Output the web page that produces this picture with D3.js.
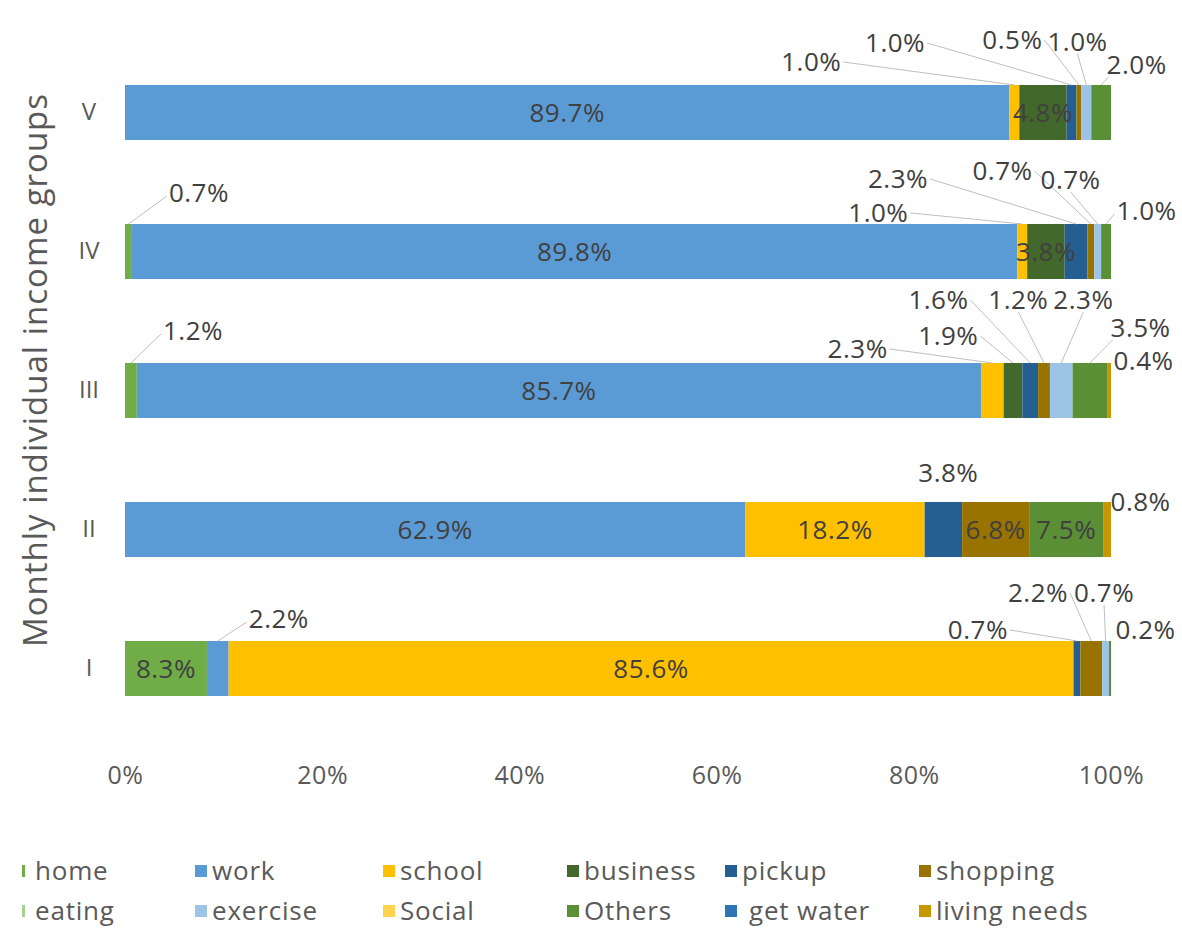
<!DOCTYPE html>
<html>
<head>
<meta charset="utf-8">
<script src="https://cdn.jsdelivr.net/npm/d3@7"></script>
<style>
  body { margin: 0; background: #fff; }
  svg text { font-family: "Open Sans", Lato, sans-serif; }
</style>
</head>
<body>
<svg id="chart"></svg>
<script>
// income groups, top to bottom
var groups = ["V", "IV", "III", "II", "I"];
var categories = ["home", "work", "school", "business", "pickup", "shopping",
  "eating", "exercise", "Social", "Others", "get water", "living needs"];

// share of trips (%) per group, in the order of groups
var home        = [0,    0.7,  1.2,  0,    8.3];
var work        = [89.7, 89.8, 85.7, 62.9, 2.2];
var school      = [1.0,  1.0,  2.3,  18.2, 85.6];
var business    = [4.8,  3.8,  1.9,  0,    0];
var pickup      = [1.0,  2.3,  1.6,  3.8,  0.7];
var shopping    = [0.5,  0.7,  1.2,  6.8,  2.2];
var eating      = [0,    0,    0,    0,    0];
var exercise    = [1.0,  0.7,  2.3,  0,    0.7];
var social      = [0,    0,    0,    0,    0];
var others      = [2.0,  1.0,  3.5,  7.5,  0.2];
var getWater    = [0,    0,    0,    0,    0];
var livingNeeds = [0,    0,    0.4,  0.8,  0];

var xTicks = [0, 0.2, 0.4, 0.6, 0.8, 1];

var seriesByCat = {
  "home": home, "work": work, "school": school, "business": business,
  "pickup": pickup, "shopping": shopping, "eating": eating,
  "exercise": exercise, "Social": social, "Others": others,
  "get water": getWater, "living needs": livingNeeds
};

var colors = {
  "home": "#70AD47", "work": "#5B9BD5", "school": "#FFC000",
  "business": "#43682B", "pickup": "#255E91", "shopping": "#997300",
  "eating": "#A9D18E", "exercise": "#9DC3E6", "Social": "#FFD34D",
  "Others": "#5A8F35", "get water": "#2E75B6", "living needs": "#C79600"
};

// callout placement: label centre (x in % of axis), offset from bar top, where the leader starts
var callouts = [
  { g: "V", k: "school", lx: 69.6, dy: -23, side: "r" },
  { g: "V", k: "pickup", lx: 78.1, dy: -42, side: "r" },
  { g: "V", k: "shopping", lx: 90.0, dy: -45, side: "r" },
  { g: "V", k: "exercise", lx: 96.6, dy: -43, side: "b" },
  { g: "V", k: "Others", lx: 102.6, dy: -20, side: "bl" },
  { g: "IV", k: "home", lx: 7.5, dy: -31, side: "l" },
  { g: "IV", k: "school", lx: 76.4, dy: -11, side: "r" },
  { g: "IV", k: "pickup", lx: 78.4, dy: -45, side: "r" },
  { g: "IV", k: "shopping", lx: 89.0, dy: -53, side: "r" },
  { g: "IV", k: "exercise", lx: 95.9, dy: -44, side: "b" },
  { g: "IV", k: "Others", lx: 103.6, dy: -13, side: "l" },
  { g: "III", k: "home", lx: 6.9, dy: -32, side: "l" },
  { g: "III", k: "school", lx: 74.3, dy: -14, side: "r" },
  { g: "III", k: "business", lx: 83.5, dy: -27, side: "r" },
  { g: "III", k: "pickup", lx: 82.5, dy: -63, side: "r" },
  { g: "III", k: "shopping", lx: 90.6, dy: -63, side: "b" },
  { g: "III", k: "exercise", lx: 97.2, dy: -63, side: "b" },
  { g: "III", k: "Others", lx: 103.0, dy: -35, side: "bl" },
  { g: "III", k: "living needs", lx: 103.3, dy: -2, side: "none" },
  { g: "II", k: "pickup", lx: 83.5, dy: -29, side: "none" },
  { g: "II", k: "living needs", lx: 103.0, dy: 0, side: "none" },
  { g: "I", k: "work", lx: 15.6, dy: -22, side: "l" },
  { g: "I", k: "pickup", lx: 86.5, dy: -11, side: "r" },
  { g: "I", k: "shopping", lx: 92.6, dy: -48, side: "r" },
  { g: "I", k: "exercise", lx: 99.3, dy: -48, side: "b" },
  { g: "I", k: "Others", lx: 103.5, dy: -11, side: "none" }
];

var legendRows = [
  ["home", "work", "school", "business", "pickup", "shopping"],
  ["eating", "exercise", "Social", "Others", "get water", "living needs"]
];
var legendColX = [35, 212, 400, 584, 742, 936];

var screen = { width: 1182, height: 931 };
var margins = { top: 43, left: 125, right: 71 };

var svg = d3.select("#chart").attr("width", screen.width).attr("height", screen.height);
svg.append("rect").attr("width", screen.width).attr("height", screen.height).attr("fill", "#fff");

var table = groups.map(function (g, i) {
  var row = { group: g };
  categories.forEach(function (c) { row[c] = seriesByCat[c][i]; });
  return row;
});

var stack = d3.stack().keys(categories).offset(d3.stackOffsetExpand);
var layers = stack(table);

var xScale = d3.scaleLinear().domain([0, 1]).range([margins.left, screen.width - margins.right]);
var yScale = d3.scaleBand().domain(groups).range([margins.top, margins.top + 695])
  .paddingInner(0.604).paddingOuter(0.302);

// bars
var layerG = svg.append("g").selectAll("g").data(layers).enter().append("g")
  .attr("fill", function (d) { return colors[d.key]; });
layerG.selectAll("rect")
  .data(function (d) { return d.map(function (p) { p.key = d.key; return p; }); })
  .enter().append("rect")
  .attr("x", function (p) { return xScale(p[0]); })
  .attr("y", function (p) { return yScale(p.data.group); })
  .attr("width", function (p) { return Math.max(0, xScale(p[1]) - xScale(p[0])); })
  .attr("height", yScale.bandwidth());

var fmt = function (v) { return v.toFixed(1) + "%"; };
var labelColor = "#404040";
var labelSize = 26;
var labelSpacing = 0.5;

var isCallout = function (g, k) {
  return callouts.some(function (c) { return c.g === g && c.k === k; });
};

// labels inside the bars
var inside = [];
layers.forEach(function (layer) {
  layer.forEach(function (p) {
    if (p.data[layer.key] > 0 && !isCallout(p.data.group, layer.key)) inside.push(p);
  });
});
svg.append("g").selectAll("text").data(inside).enter().append("text")
  .attr("x", function (p) { return (xScale(p[0]) + xScale(p[1])) / 2; })
  .attr("y", function (p) { return yScale(p.data.group) + yScale.bandwidth() / 2; })
  .attr("dy", "0.36em")
  .attr("text-anchor", "middle")
  .attr("font-size", labelSize)
  .attr("letter-spacing", labelSpacing)
  .attr("fill", labelColor)
  .text(function (p) { return fmt(p.data[p.key]); });

// callout labels with leader lines
var findSeg = function (g, k) {
  var layer = layers.find(function (l) { return l.key === k; });
  return layer[groups.indexOf(g)];
};
var cg = svg.append("g");
callouts.forEach(function (c) {
  var seg = findSeg(c.g, c.k);
  var top = yScale(c.g);
  var lx = xScale(c.lx / 100);
  var ly = top + c.dy;
  var t = cg.append("text")
    .attr("x", lx).attr("y", ly).attr("dy", "0.36em")
    .attr("text-anchor", "middle")
    .attr("font-size", labelSize)
    .attr("letter-spacing", labelSpacing)
    .attr("fill", labelColor)
    .text(fmt(seg.data[c.k]));
  if (c.side === "none") return;
  var w = t.node().getComputedTextLength();
  var ex = (xScale(seg[0]) + xScale(seg[1])) / 2;
  var sx = lx, sy = ly;
  if (c.side === "r") { sx = lx + w / 2 + 2; }
  if (c.side === "l") { sx = lx - w / 2 - 2; sy = ly + 3; }
  if (c.side === "b") { sy = ly + 12; }
  if (c.side === "bl") { sx = lx - w / 2 + 2; sy = ly + 12; }
  cg.append("line")
    .attr("x1", sx).attr("y1", sy).attr("x2", ex).attr("y2", top)
    .attr("stroke", "#BFBFBF").attr("stroke-width", 1);
});

// axes
var xAxis = d3.axisBottom(xScale).tickValues(xTicks).tickFormat(d3.format(".0%")).tickSize(0).tickPadding(0);
var xg = svg.append("g").attr("transform", "translate(0,775)").call(xAxis);
xg.select(".domain").remove();
xg.selectAll("text").attr("font-size", 25).attr("letter-spacing", 0.5).attr("fill", "#595959").attr("dy", "0.36em")
  .style("font-family", "'Open Sans', Lato, sans-serif");

var yAxis = d3.axisLeft(yScale).tickSize(0).tickPadding(0);
var yg = svg.append("g").attr("transform", "translate(89,0)").call(yAxis);
yg.select(".domain").remove();
yg.selectAll("text").attr("font-size", 24).attr("fill", "#595959").attr("text-anchor", "middle")
  .style("font-family", "'Open Sans', Lato, sans-serif");

svg.append("text")
  .attr("transform", "translate(35,370) rotate(-90)")
  .attr("text-anchor", "middle")
  .attr("dy", "0.36em")
  .attr("font-size", 33)
  .attr("letter-spacing", 1)
  .attr("fill", "#595959")
  .text("Monthly individual income groups");

// legend
var lg = svg.append("g");
legendRows.forEach(function (row, r) {
  var y = 871 + r * 40;
  row.forEach(function (k, i) {
    var tx = legendColX[i];
    var thin = (k === "home" || k === "eating");
    lg.append("rect")
      .attr("x", thin ? tx - 13 : tx - 17)
      .attr("y", y - 6)
      .attr("width", thin ? 3 : 12)
      .attr("height", 12)
      .attr("fill", colors[k]);
    lg.append("text")
      .attr("x", k === "get water" ? tx + 7 : tx)
      .attr("y", y)
      .attr("dy", "0.36em")
      .attr("font-size", 26)
      .attr("letter-spacing", 0.8)
      .attr("fill", "#595959")
      .text(k);
  });
});
</script>
</body>
</html>
